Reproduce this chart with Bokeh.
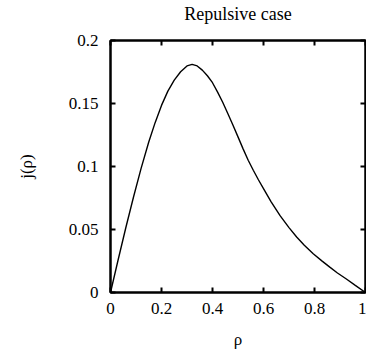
from bokeh.plotting import figure
from bokeh.models import Range1d, LinearAxis, FixedTicker
from bokeh.embed import file_html
from bokeh.resources import INLINE

# Data
rho = [0, 0.03, 0.06, 0.09, 0.12, 0.15, 0.175, 0.20, 0.225, 0.25, 0.275,
       0.30, 0.32, 0.34, 0.36, 0.38, 0.40, 0.42, 0.44, 0.46, 0.48, 0.50,
       0.52, 0.54, 0.56, 0.58, 0.60, 0.63, 0.665, 0.70, 0.73, 0.76, 0.795,
       0.83, 0.86, 0.89, 0.925, 0.96, 1.0]
j_rho = [0, 0.026, 0.0514, 0.0756, 0.0985, 0.1194, 0.1348, 0.1485, 0.1598,
         0.1685, 0.1752, 0.1798, 0.1810, 0.1798, 0.1765, 0.1720, 0.1665,
         0.1590, 0.1510, 0.1420, 0.1330, 0.1235, 0.1140, 0.1050, 0.0970,
         0.0895, 0.0825, 0.0720, 0.0610, 0.0515, 0.0440, 0.0375, 0.0307,
         0.0249, 0.0201, 0.0155, 0.0107, 0.0057, 0.0]

x_ticks = [0, 0.2, 0.4, 0.6, 0.8, 1.0]
x_tick_labels = ["0", "0.2", "0.4", "0.6", "0.8", "1"]
y_ticks = [0, 0.05, 0.1, 0.15, 0.2]
y_tick_labels = ["0", "0.05", "0.1", "0.15", "0.2"]
title_text = "Repulsive case"

FONT = "Liberation Serif"

p = figure(width=366, height=356, output_backend="svg", toolbar_location=None,
           x_range=Range1d(0, 1), y_range=Range1d(0, 0.2),
           x_axis_label="ρ", y_axis_label="j(ρ)",
           min_border_left=110, min_border_right=1, min_border_top=40,
           min_border_bottom=64)

p.xgrid.visible = False
p.ygrid.visible = False
p.outline_line_color = "black"
p.outline_line_width = 2
p.background_fill_color = "white"
p.border_fill_color = "white"

p.line(rho, j_rho, line_color="black", line_width=1.4)

def style_axis(ax, ticks, labels, show_labels=True):
    ax.ticker = FixedTicker(ticks=ticks)
    ax.major_label_overrides = {t: l for t, l in zip(ticks, labels)}
    ax.major_tick_in = 5
    ax.major_tick_out = 0
    ax.major_tick_line_width = 2
    ax.major_tick_line_color = "black"
    ax.minor_tick_line_color = None
    ax.axis_line_color = "black"
    ax.axis_line_width = 2
    ax.major_label_text_font = FONT
    ax.major_label_text_color = "black"
    ax.axis_label_text_font = FONT
    ax.axis_label_text_font_style = "normal"
    ax.axis_label_text_color = "black"
    if show_labels:
        ax.major_label_text_font_size = "17px"
        ax.major_label_standoff = 12
        ax.axis_label_text_font_size = "17px"
    else:
        ax.major_label_text_font_size = "0px"
        ax.major_label_text_color = None
        ax.major_label_standoff = 0

style_axis(p.xaxis[0], x_ticks, x_tick_labels)
style_axis(p.yaxis[0], y_ticks, y_tick_labels)
p.xaxis[0].major_label_standoff = 10
p.xaxis[0].axis_label_standoff = 13
p.yaxis[0].axis_label_standoff = 30

# top axis carries the chart title as its label
top_axis = LinearAxis(axis_label=title_text)
style_axis(top_axis, x_ticks, x_tick_labels, show_labels=False)
top_axis.axis_label_text_font_size = "18px"
top_axis.axis_label_standoff = 17
p.add_layout(top_axis, "above")
right_axis = LinearAxis()
style_axis(right_axis, y_ticks, y_tick_labels, show_labels=False)
p.add_layout(right_axis, "right")

open("out.html", "w").write(file_html(p, INLINE))
